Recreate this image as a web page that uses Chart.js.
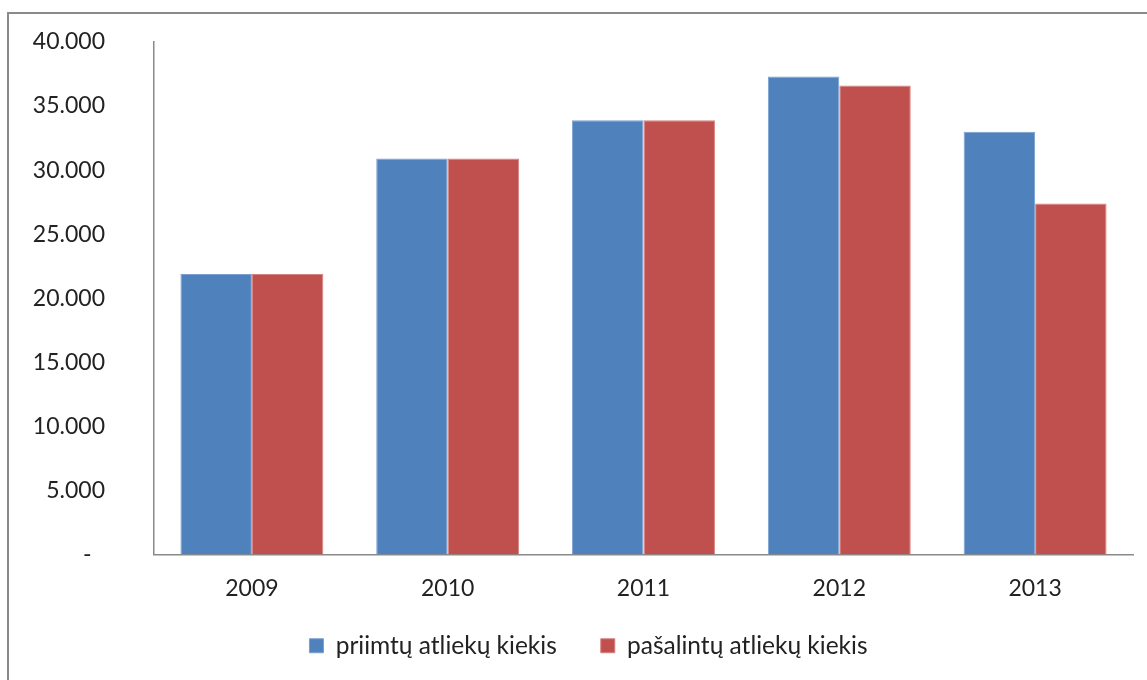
<!DOCTYPE html>
<html>
<head>
<meta charset="utf-8">
<script src="https://cdn.jsdelivr.net/npm/chart.js@4/dist/chart.umd.min.js"></script>
<style>
  body { margin: 0; background: #fff; overflow: hidden; }
  #wrap { position: relative; width: 1147px; height: 680px; }
  #frame { position: absolute; left: 7px; top: 12px; width: 1160px; height: 700px; border: 2px solid #8a8a8a; box-sizing: border-box; }
  canvas { position: absolute; left: 0; top: 0; }
</style>
</head>
<body>
<div id="wrap">
  <div id="frame"></div>
  <canvas id="chart" width="1147" height="680"></canvas>
</div>
<script>
// duomenys
const years = ['2009', '2010', '2011', '2012', '2013'];
const priimta = [21900, 30900, 33900, 37300, 33000];
const pasalinta = [21900, 30900, 33900, 36600, 27400];
const seriesNames = ['priimtų atliekų kiekis', 'pašalintų atliekų kiekis'];

const FONT = { family: 'Lato, "Open Sans", sans-serif', size: 23 };
const LEGEND_FONT = { family: 'Lato, "Open Sans", sans-serif', size: 24.5 };

function fmt(v) {
    if (v === 0) return '-\u2007';
    return String(v).replace(/\B(?=(\d{3})+(?!\d))/g, '.');
}

// legenda pastumiama kaip Excel'yje (centras ~588, eilutė ~646)
const legendShift = {
    id: 'legendShift',
    afterLayout(chart) {
        const l = chart.legend;
        if (!l) return;
        l.left += 22; l.right += 22;
        l.top -= 12; l.bottom -= 12;
    }
};

new Chart(document.getElementById('chart').getContext('2d'), {
    type: 'bar',
    data: {
        labels: years,
        datasets: [
            { label: seriesNames[0], data: priimta, backgroundColor: '#4f81bd', borderColor: '#7b9fd0', borderWidth: 1 },
            { label: seriesNames[1], data: pasalinta, backgroundColor: '#c0504d', borderColor: '#d6827f', borderWidth: 1 }
        ]
    },
    options: {
        responsive: false,
        animation: false,
        layout: { padding: { top: 42, right: 14, left: 0, bottom: 0 } },
        datasets: { bar: { categoryPercentage: 0.73, barPercentage: 1 } },
        scales: {
            x: {
                grid: { display: false, drawTicks: false },
                border: { color: '#8a8a8a', width: 1.5 },
                ticks: { color: '#222', font: FONT, padding: 20 },
                afterFit: s => { s.height = 47; }
            },
            y: {
                min: 0, max: 40000,
                grid: { display: false, drawTicks: false },
                border: { color: '#8a8a8a', width: 1.5 },
                ticks: { stepSize: 5000, color: '#222', font: FONT, padding: 49, callback: v => fmt(v) },
                afterFit: s => { s.width = 154; s.paddingTop = 14; s.paddingBottom = 14; }
            }
        },
        plugins: {
            tooltip: { enabled: false },
            legend: {
                position: 'bottom',
                labels: { color: '#222', font: LEGEND_FONT, boxWidth: 14, boxHeight: 14, padding: 44 }
            }
        }
    },
    plugins: [legendShift]
});
</script>
</body>
</html>
